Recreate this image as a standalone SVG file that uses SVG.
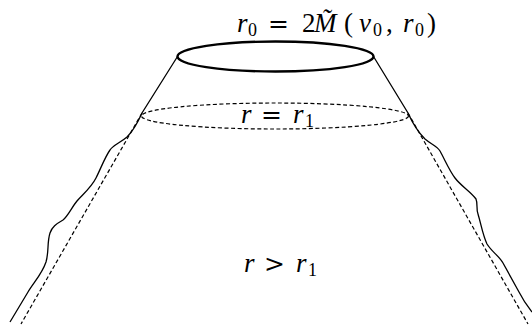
<svg xmlns="http://www.w3.org/2000/svg" width="532" height="326" viewBox="0 0 532 326">
<style>
.s{fill:none;stroke:#000;stroke-width:1.3}
.d{fill:none;stroke:#000;stroke-width:1.2;stroke-dasharray:4 2.5}
.t{font-family:"Liberation Serif",serif;font-size:27px;fill:#000}
.i{font-style:italic}
.sub{font-size:18px}
.op{font-family:"DejaVu Serif",serif;font-size:25px}
</style>
<rect width="532" height="326" fill="#fff"/>
<g id="cone">
<ellipse id="top" cx="275.5" cy="56.5" rx="98" ry="15" fill="none" stroke="#000" stroke-width="2.4"/>
<path id="left-side" class="s" d="M177.5,56.5 L142,113 C138,122 134,130 127,137 C120,143 113,145 110,150 C105,157 101,168 96,178 C91,188 82,195 77,201 C72,207 68,216 63,220 C56,224 52,227 50,233 C47,242 49,252 46,262 C42,274 34,282 28,292 C22,302 16,312 10,322"/>
<path id="right-side" class="s" d="M373.5,56.5 L408,113 C412,122 417,131 425,139 C432,145 437,146 440,151 C445,160 449,170 455,178 C461,186 471,192 476,199 C478,204 476,209 478,214 C481,224 483,236 487,244 C492,252 499,256 503,263 C509,274 514,283 519,292 C523,300 528,307 532,312"/>
<ellipse id="middle" class="d" cx="275" cy="116" rx="133.5" ry="13"/>
<line id="left-asymptote" class="d" x1="142" y1="113" x2="21" y2="324"/>
<line id="right-asymptote" class="d" x1="408" y1="113" x2="528" y2="324"/>
</g>
<g id="labels">
<text class="t" y="32"><tspan class="i" x="237">r</tspan><tspan class="sub" x="248" y="36">0</tspan><tspan class="op" x="268" y="32">=</tspan><tspan x="302">2</tspan><tspan class="i" x="314">M̃</tspan><tspan x="344">(</tspan><tspan class="i" x="359">v</tspan><tspan class="sub" x="373" y="36">0</tspan><tspan x="386" y="32">,</tspan><tspan class="i" x="403">r</tspan><tspan class="sub" x="415" y="36">0</tspan><tspan x="427" y="32">)</tspan></text>
<text class="t" y="123"><tspan class="i" x="241">r</tspan><tspan class="op" x="261">=</tspan><tspan class="i" x="293">r</tspan><tspan class="sub" x="305" y="127">1</tspan></text>
<text class="t" y="272"><tspan class="i" x="244">r</tspan><tspan class="op" x="264">&gt;</tspan><tspan class="i" x="296">r</tspan><tspan class="sub" x="308" y="276">1</tspan></text>
</g>
</svg>
